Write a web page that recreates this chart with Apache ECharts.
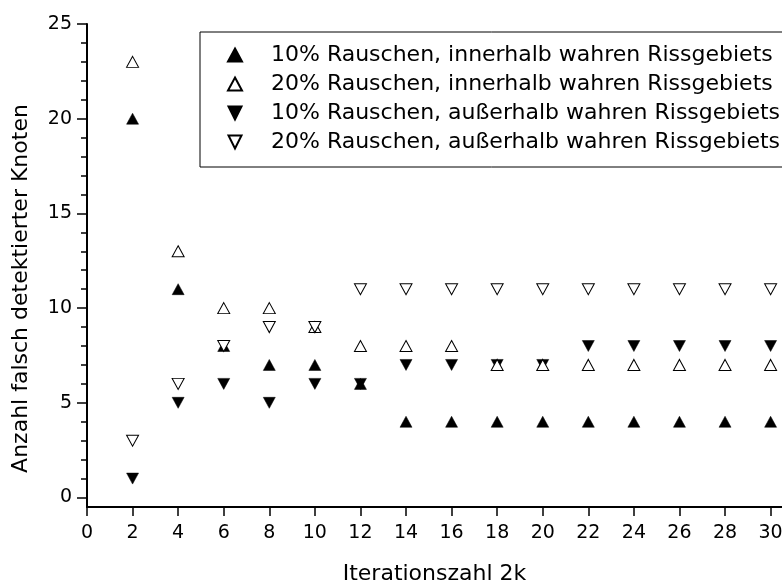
<!DOCTYPE html>
<html>
<head>
<meta charset="utf-8">
<script src="https://cdn.jsdelivr.net/npm/echarts@6/dist/echarts.min.js"></script>
<style>
  html, body { margin: 0; padding: 0; background: #fff; }
  #chart { width: 782px; height: 581px; }
</style>
</head>
<body>
<div id="chart"></div>
<script>
// Iteration counts (2k) on the x axis
const iterations = [2, 4, 6, 8, 10, 12, 14, 16, 18, 20, 22, 24, 26, 28, 30];

// False-detected node counts per noise level and region
const inner10 = [20, 11, 8, 7, 7, 6, 4, 4, 4, 4, 4, 4, 4, 4, 4];
const inner20 = [23, 13, 10, 10, 9, 8, 8, 8, 7, 7, 7, 7, 7, 7, 7];
const outer10 = [1, 5, 6, 5, 6, 6, 7, 7, 7, 7, 8, 8, 8, 8, 8];
const outer20 = [3, 6, 8, 9, 9, 11, 11, 11, 11, 11, 11, 11, 11, 11, 11];

const seriesNames = [
  '10% Rauschen, innerhalb wahren Rissgebiets',
  '20% Rauschen, innerhalb wahren Rissgebiets',
  '10% Rauschen, außerhalb wahren Rissgebiets',
  '20% Rauschen, außerhalb wahren Rissgebiets'
];

const xTickValues = [0, 2, 4, 6, 8, 10, 12, 14, 16, 18, 20, 22, 24, 26, 28, 30];
const yLabelValues = [0, 5, 10, 15, 20, 25];
const yMinorValues = [0, 1, 2, 3, 4, 5, 6, 7, 8, 9, 10, 11, 12, 13, 14, 15, 16, 17, 18, 19, 20, 21, 22, 23, 24, 25];

const FONT = 'DejaVu Sans';
const UP = 'triangle';
const DOWN = 'path://M0,0L20,0L10,20Z';

function pairs(values) {
  return iterations.map((x, i) => [x, values[i]]);
}

function scatter(name, values, symbol, filled) {
  return {
    name: name,
    type: 'scatter',
    xAxisIndex: 0,
    yAxisIndex: 0,
    symbol: symbol,
    symbolSize: [12, 11],
    data: pairs(values),
    itemStyle: filled
      ? { color: '#000', borderColor: '#000', borderWidth: 0.5, opacity: 1 }
      : { color: '#fff', borderColor: '#000', borderWidth: 1, opacity: 1 },
    emphasis: { disabled: true }
  };
}

const chart = echarts.init(document.getElementById('chart'), null, { renderer: 'canvas' });

chart.setOption({
  animation: false,
  backgroundColor: '#fff',
  textStyle: { fontFamily: FONT, color: '#000' },
  grid: { left: 87, right: 0, top: 24, bottom: 74, containLabel: false, outerBoundsMode: 'none' },
  legend: {
    orient: 'vertical',
    left: 200,
    top: 32,
    padding: [12, 40, 14, 27],
    itemGap: 7,
    itemWidth: 14,
    itemHeight: 13,
    borderColor: '#000',
    borderWidth: 1,
    backgroundColor: '#fff',
    selectedMode: false,
    textStyle: { fontFamily: FONT, fontSize: 22, lineHeight: 22, color: '#000', padding: [0, 0, 0, 24] },
    data: [
      { name: seriesNames[0], icon: UP },
      { name: seriesNames[1], icon: UP },
      { name: seriesNames[2], icon: DOWN },
      { name: seriesNames[3], icon: DOWN }
    ]
  },
  xAxis: {
    type: 'value',
    min: 0,
    max: 30.5,
    name: 'Iterationszahl 2k',
    nameLocation: 'middle',
    nameGap: 56,
    nameTextStyle: { fontFamily: FONT, fontSize: 22, color: '#000' },
    axisLine: { onZero: false, lineStyle: { color: '#000', width: 2 } },
    axisTick: { show: true, inside: false, length: 9, customValues: xTickValues, lineStyle: { color: '#000', width: 1.5 } },
    axisLabel: { show: true, customValues: xTickValues, margin: 17, fontFamily: FONT, fontSize: 19, color: '#000' },
    splitLine: { show: false }
  },
  yAxis: [
    {
      type: 'value',
      min: -0.5,
      max: 25,
      name: 'Anzahl falsch detektierter Knoten',
      nameLocation: 'middle',
      nameGap: 55,
      nameTextStyle: { fontFamily: FONT, fontSize: 22, color: '#000', padding: [0, 46, 0, 0] },
      axisLine: { onZero: false, lineStyle: { color: '#000', width: 2 } },
      axisTick: { show: true, inside: false, length: 10, customValues: yLabelValues, lineStyle: { color: '#000', width: 1.5 } },
      axisLabel: { show: true, customValues: yLabelValues, margin: 15, fontFamily: FONT, fontSize: 19, color: '#000' },
      splitLine: { show: false }
    },
    {
      type: 'value',
      min: -0.5,
      max: 25,
      position: 'left',
      axisLine: { show: false },
      axisTick: { show: true, inside: false, length: 6, customValues: yMinorValues, lineStyle: { color: '#000', width: 1.5 } },
      axisLabel: { show: false },
      splitLine: { show: false }
    }
  ],
  series: [
    scatter(seriesNames[0], inner10, UP, true),
    scatter(seriesNames[2], outer10, DOWN, true),
    scatter(seriesNames[1], inner20, UP, false),
    scatter(seriesNames[3], outer20, DOWN, false)
  ]
});
</script>
</body>
</html>
